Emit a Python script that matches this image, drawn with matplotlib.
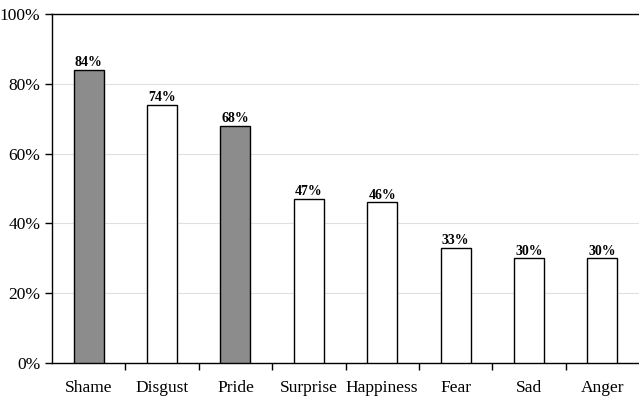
import matplotlib
matplotlib.use("Agg")
from matplotlib import pyplot as plt
import numpy as np

# emotion categories and share of responses
emotions = ["Shame", "Disgust", "Pride", "Surprise", "Happiness", "Fear", "Sad", "Anger"]
percent = [84, 74, 68, 47, 46, 33, 30, 30]
shaded = ["Shame", "Pride"]

plt.rcParams['font.family'] = ['Liberation Serif', 'DejaVu Serif']

fig = plt.figure(figsize=(6.39, 3.98), dpi=100)
ax = fig.add_axes([0.0814, 0.088, 0.9186, 0.877])

x = np.arange(len(emotions))
colors = ['#8c8c8c' if e in shaded else 'white' for e in emotions]
ax.bar(x, percent, width=0.41, color=colors, edgecolor='black', linewidth=1.0, zorder=3)

# value labels above each bar
for xi, v in zip(x, percent):
    ax.text(xi, v + 0.2, f"{v}%", ha='center', va='bottom', fontsize=10,
            fontweight='bold', zorder=4)

ax.set_xlim(-0.5, len(emotions) - 0.5)
ax.set_ylim(0, 100)
ax.set_yticks(range(0, 101, 20))
ax.set_yticklabels([f"{t}%" for t in range(0, 101, 20)], fontsize=12.5)
ax.grid(axis='y', color='#e0e0e0', linewidth=0.8, zorder=0)

# category labels centred, tick marks between categories
ax.set_xticks(x)
ax.set_xticklabels(emotions, fontsize=12.5)
ax.tick_params(axis='x', which='major', length=0, pad=12.5)
ax.set_xticks(np.arange(0.5, len(emotions) - 0.5, 1), minor=True)
ax.tick_params(axis='x', which='minor', length=5, direction='out', width=1)
ax.tick_params(axis='y', length=5, direction='out', width=1)

ax.spines['right'].set_visible(False)
for s in ['left', 'bottom', 'top']:
    ax.spines[s].set_linewidth(1.0)

fig.savefig("out.png", dpi=100)
